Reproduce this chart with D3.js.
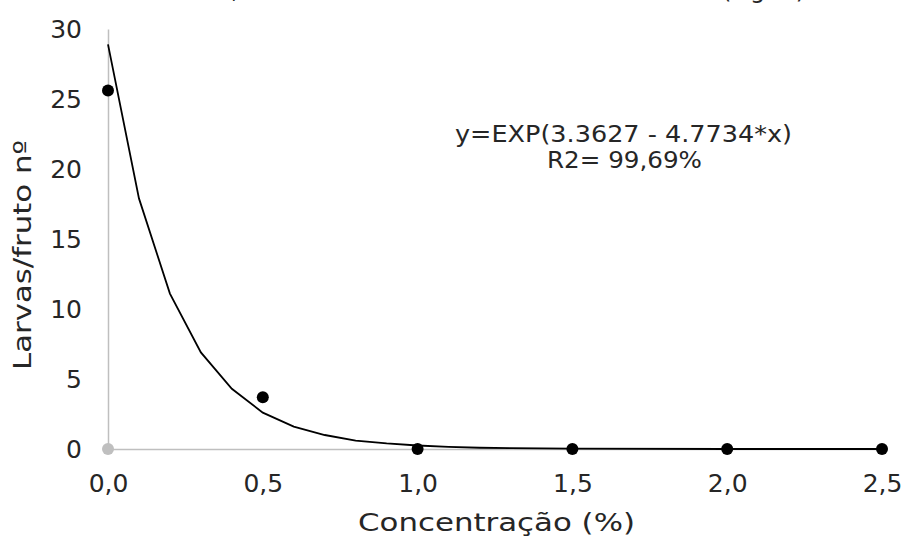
<!DOCTYPE html>
<html>
<head>
<meta charset="utf-8">
<script src="https://cdn.jsdelivr.net/npm/d3@7"></script>
<style>
  body { margin: 0; background: #fff; }
  text { font-family: "DejaVu Sans", sans-serif; fill: #262626; }
</style>
</head>
<body>
<div id="canvas"></div>
<script>
// observed data
const concX = [0, 0.5, 1.0, 1.5, 2.0, 2.5];
const larvas = [25.6, 3.7, 0, 0, 0, 0];

// fitted curve as drawn (segments every 0.1)
const curveX = [0, 0.1, 0.2, 0.3, 0.4, 0.5, 0.6, 0.7, 0.8, 0.9, 1.0, 1.1, 1.2, 1.3, 1.5, 2.0, 2.5];
const curveY = [28.9, 17.9, 11.1, 6.9, 4.3, 2.6, 1.6, 1.0, 0.6, 0.4, 0.25, 0.15, 0.09, 0.06, 0.02, 0, 0];

const xTicks = [0, 0.5, 1.0, 1.5, 2.0, 2.5];
const yTicks = [0, 5, 10, 15, 20, 25, 30];

const width = 905;
const height = 540;
const margin = {top: 29, left: 108, bottom: 91, right: 23};
const iwidth = width - margin.left - margin.right;
const iheight = height - margin.top - margin.bottom;

const svg = d3.select("#canvas").append("svg")
    .attr("width", width)
    .attr("height", height);

// cut-off caption line above the chart
svg.append("text").attr("x", 231).attr("y", -2).style("font-size", "24px").text(",");
svg.append("text").attr("x", 722).attr("y", -2).style("font-size", "24px").text("(Fig. 1)");

const g = svg.append("g").attr("transform", `translate(${margin.left},${margin.top})`);

const x = d3.scaleLinear().domain([0, 2.5]).range([0, iwidth]);
const y = d3.scaleLinear().domain([0, 30]).range([iheight, 0]);

const comma = d3.formatLocale({decimal: ",", thousands: ".", grouping: [3], currency: ["", ""]});

const xAxis = g.append("g")
    .attr("transform", `translate(0,${iheight})`)
    .call(d3.axisBottom(x).tickValues(xTicks).tickSize(0).tickPadding(25).tickFormat(comma.format(".1f")));
const yAxis = g.append("g")
    .call(d3.axisLeft(y).tickValues(yTicks).tickSize(0).tickPadding(26).tickFormat(d3.format("d")));

[xAxis, yAxis].forEach(a => {
  a.select(".domain").attr("stroke", "#bfbfbf").attr("stroke-width", 1.5);
  a.selectAll("text").style("font-size", "25px").attr("fill", "#262626")
    .style("font-family", "DejaVu Sans, sans-serif");
});

// origin marker
g.append("circle")
    .attr("cx", x(0)).attr("cy", y(0)).attr("r", 6)
    .attr("fill", "#bfbfbf");

const line = d3.line().x((d, i) => x(curveX[i])).y(d => y(d));
g.append("path")
    .datum(curveY)
    .attr("d", line)
    .attr("fill", "none")
    .attr("stroke", "#000")
    .attr("stroke-width", 1.8);

g.selectAll("circle.pt")
    .data(larvas)
    .enter().append("circle")
    .attr("class", "pt")
    .attr("cx", (d, i) => x(concX[i]))
    .attr("cy", d => y(d))
    .attr("r", 6)
    .attr("fill", "#000");

// equation
g.append("text")
    .attr("x", 347).attr("y", 113)
    .attr("textLength", 337).attr("lengthAdjust", "spacingAndGlyphs")
    .style("font-size", "23px")
    .text("y=EXP(3.3627 - 4.7734*x)");
g.append("text")
    .attr("x", 439).attr("y", 139)
    .attr("textLength", 155).attr("lengthAdjust", "spacingAndGlyphs")
    .style("font-size", "23px")
    .text("R2= 99,69%");

// axis titles
svg.append("text")
    .attr("x", 358)
    .attr("y", 531)
    .attr("textLength", 277).attr("lengthAdjust", "spacingAndGlyphs")
    .style("font-size", "25px")
    .text("Concentração  (%)");
svg.append("text")
    .attr("transform", "translate(31,370) rotate(-90)")
    .attr("textLength", 230).attr("lengthAdjust", "spacingAndGlyphs")
    .style("font-size", "25px")
    .text("Larvas/fruto nº");
</script>
</body>
</html>
